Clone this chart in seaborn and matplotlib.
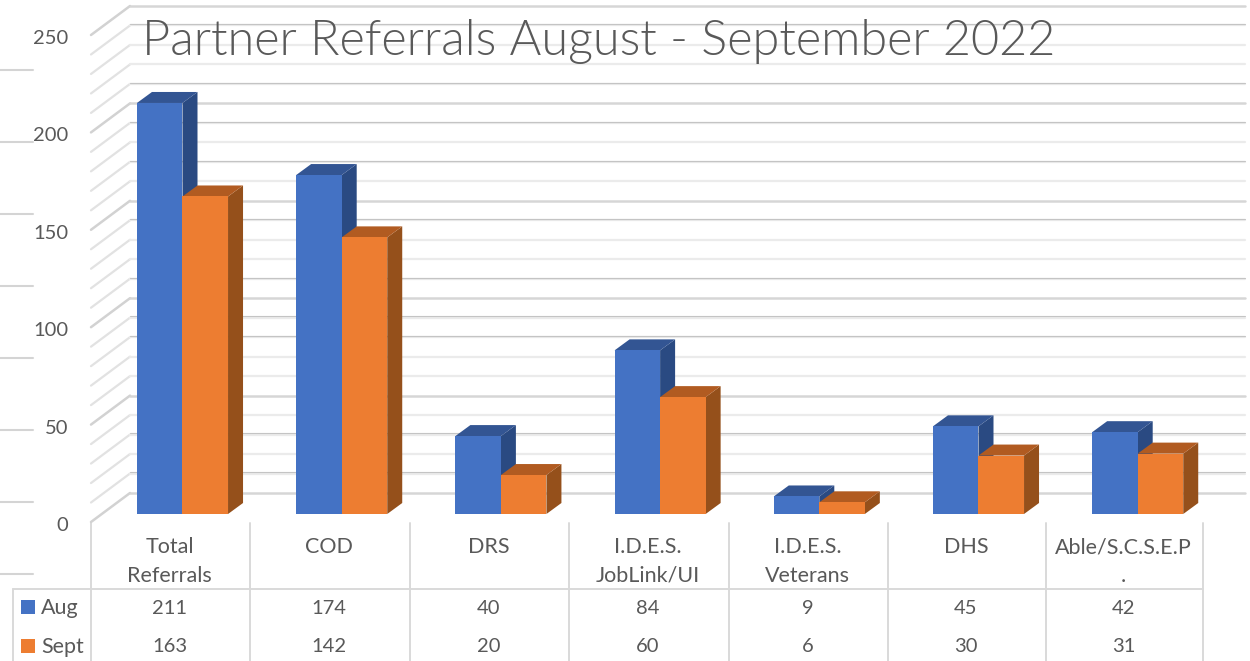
import matplotlib
matplotlib.use('Agg')
import numpy as np
import pandas as pd
import matplotlib.pyplot as plt
import seaborn as sns
from matplotlib.patches import Polygon, Rectangle

categories = ['Total\nReferrals', 'COD', 'DRS', 'I.D.E.S.\nJobLink/UI', 'I.D.E.S.\nVeterans', 'DHS', 'Able/S.C.S.E.P\n.']
aug = [211, 174, 40, 84, 9, 45, 42]
sept = [163, 142, 20, 60, 6, 30, 31]
series = ['Aug', 'Sept']
yticks = [0, 50, 100, 150, 200, 250]
title = 'Partner Referrals August - September 2022'

W, H = 1250, 661
BLUE = ['#4472C4', '#335593', '#2A4A82']
ORANGE = ['#ED7D31', '#B15B21', '#95501B']
TXT = '#595959'
dark_lines = [10, 30, 80, 90, 110, 140, 170, 190, 210, 240]

sns.set_theme(style='white')
plt.rcParams['font.family'] = ['Lato', 'DejaVu Sans']

df = pd.DataFrame({'cat': categories * 2,
                   'series': ['Aug'] * 7 + ['Sept'] * 7,
                   'val': aug + sept})

fig = plt.figure(figsize=(W / 100, H / 100), dpi=100)

# pixel layer for table and stray lines
px = fig.add_axes([0, 0, 1, 1])
px.set_xlim(0, W)
px.set_ylim(H, 0)
px.axis('off')

# main axes: x=-.5 at 102.9px, y=0 at 514px, y=250 at 27px
cat_w = 159.2
left = 102.9
ax = fig.add_axes([left / W, (H - 514) / H, 7 * cat_w / W, 487 / H])
ax.patch.set_alpha(0)
sns.barplot(data=df, x='cat', y='val', hue='series', palette=[BLUE[0], ORANGE[0]],
            width=0.572, gap=0, saturation=1, legend=False, linewidth=0, edgecolor='none',
            ax=ax, zorder=3)
ax.set_xlim(-0.5, 6.5)
ax.set_ylim(0, 250)
ax.set_xlabel('')
ax.set_ylabel('')
ax.set_xticks([])
ax.set_yticks([])
sns.despine(ax=ax, left=True, bottom=True)

ux = 1 / cat_w
uy = 250 / 487

# walls
wall_x = [(91 - left) * ux - 0.5, (130 - left) * ux - 0.5, (1245 - left) * ux - 0.5]
front_off = -8 * uy
back_off = 21 * uy
for v in range(0, 251, 10):
    major = v % 50 == 0
    col = '#d6d6d6' if major else '#ebebeb'
    lw = 1.8 if major else 1.6
    ax.plot(wall_x[:2], [v + front_off, v + back_off], color='#d2d2d2' if major else '#e2e2e2',
            lw=lw, clip_on=False, zorder=1, solid_capstyle='round')
    ax.plot(wall_x[1:], [v + back_off, v + back_off], color=col, lw=lw, clip_on=False, zorder=1,
            solid_capstyle='round')
    if v in dark_lines:
        ax.plot(wall_x[1:], [v + back_off + 1.2 * uy, v + back_off + 1.2 * uy], color='#c4c4c4', lw=0.8,
                clip_on=False, zorder=1.1)

# 3d faces from the seaborn bars
dx = 15 * ux
dy = 11 * uy
for cont, cols in zip(ax.containers, [BLUE, ORANGE]):
    for bar in cont:
        x0, w, h = bar.get_x(), bar.get_width(), bar.get_height()
        top = Polygon([(x0, h), (x0 + w, h), (x0 + w + dx, h + dy), (x0 + dx, h + dy)],
                      closed=True, fc=cols[1], ec='none', zorder=2.6, clip_on=False)
        side = Polygon([(x0 + w, 0), (x0 + w + dx, dy), (x0 + w + dx, h + dy), (x0 + w, h)],
                       closed=True, fc=cols[2], ec='none', zorder=2.5, clip_on=False)
        ax.add_patch(top)
        ax.add_patch(side)

# y labels
for v in yticks:
    ax.text((68 - left) * ux - 0.5, v - 11.5 * uy, str(v), ha='right', va='center',
            fontsize=14.5, color=TXT, clip_on=False)

fig.text(142 / W, 1 - 41 / H, title, fontsize=35, color=TXT, fontweight=300, va='center', ha='left')

# stray lines at left
for y in range(70, 600, 72):
    px.plot([0, 33], [y, y], color='#d4d4d4', lw=1.5, solid_capstyle='round')

# data table
grid = '#d9d9d9'
cols_x = [91, 250, 410, 569, 729, 888, 1046, 1203]
for x in cols_x:
    px.plot([x, x], [523, H], color=grid, lw=1.4)
px.plot([13, 1203], [589, 589], color=grid, lw=1.4)
px.plot([13, 13], [589, H], color=grid, lw=1.4)
for i, c in enumerate(categories):
    cx = (cols_x[i] + cols_x[i + 1]) / 2
    lines = c.split('\n')
    for j, s in enumerate(lines):
        px.text(cx - 1, 547 + 29 * j, s, ha='center', va='center', fontsize=15.5, color=TXT)
    px.text(cx - 1, 609, str(aug[i]), ha='center', va='center', fontsize=14.5, color=TXT)
    px.text(cx - 1, 647, str(sept[i]), ha='center', va='center', fontsize=14.5, color=TXT)
for name, y, col in zip(series, [607, 646], [BLUE[0], ORANGE[0]]):
    px.add_patch(Rectangle((21, y - 7), 14, 14, fc=col, ec='none'))
    px.text(41, y + 1, name, ha='left', va='center', fontsize=15.5, color=TXT)

fig.savefig('out.png', dpi=100, facecolor='white')
